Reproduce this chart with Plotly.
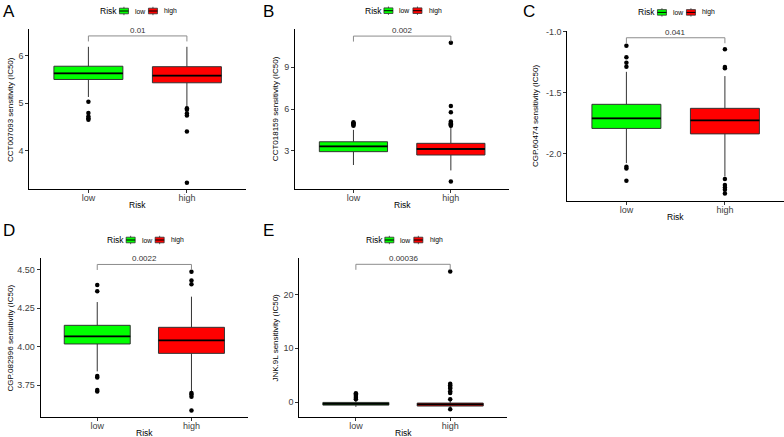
import plotly.graph_objects as go

W, H = 784, 437
FONT = "Liberation Sans, Arial, sans-serif"

# ---------------- data ----------------
groups = ["low", "high"]
group_colors = ["#00FF00", "#FF0000"]
panel_letters = ["A", "B", "C", "D", "E"]
drugs = ["CCT007093", "CCT018159", "CGP.60474", "CGP.082996", "JNK.9L"]
p_values = ["0.01", "0.002", "0.041", "0.0022", "0.00036"]

low_q1 = [5.50, 2.93, -1.795, 4.018, -0.58]
low_median = [5.63, 3.31, -1.712, 4.067, -0.35]
low_q3 = [5.78, 3.64, -1.597, 4.139, -0.08]
low_lowerfence = [5.13, 1.97, -2.08, 3.84, -0.90]
low_upperfence = [6.19, 4.50, -1.33, 4.29, 0.25]

high_q1 = [5.43, 2.69, -1.84, 3.957, -0.75]
high_median = [5.58, 3.12, -1.729, 4.041, -0.45]
high_q3 = [5.77, 3.53, -1.63, 4.126, -0.20]
high_lowerfence = [4.92, 1.58, -2.19, 3.71, -1.10]
high_upperfence = [6.19, 4.70, -1.365, 4.325, 0.30]

low_outliers = [
    [5.03, 4.79, 4.72, 4.68, 4.65],
    [5.05, 4.98, 4.92, 4.86, 4.80],
    [-1.116, -1.211, -1.255, -1.288, -2.11, -2.125, -2.225],
    [4.40, 4.36, 3.81, 3.80, 3.72, 3.71],
    [1.65, 1.40, 1.10, 0.80, 0.50],
]
high_outliers = [
    [4.89, 4.86, 4.78, 4.74, 4.40, 3.32],
    [10.77, 6.21, 5.76, 5.10, 5.00, 4.95, 4.90, 4.85, 4.80, 0.78],
    [-1.145, -1.29, -1.30, -2.21, -2.26, -2.28, -2.30, -2.33],
    [4.487, 4.43, 4.405, 3.70, 3.69, 3.675, 3.586],
    [24.3, 3.4, 3.1, 2.8, 2.5, 2.0, 1.7, 0.5, -1.36],
]
bracket_y = [6.42, 11.25, -1.05, 4.534, 25.66]

y_ranges = [[3.18, 6.56], [0.22, 11.76], [-2.394, -0.992], [3.542, 4.574], [-2.74, 26.78]]
y_tickvals = [[4, 5, 6], [3, 6, 9], [-2.0, -1.5, -1.0], [3.75, 4.0, 4.25, 4.5], [0, 10, 20]]
y_ticktext = [["4", "5", "6"], ["3", "6", "9"], ["-2.0", "-1.5", "-1.0"],
              ["3.75", "4.00", "4.25", "4.50"], ["0", "10", "20"]]

# ---------------- layout geometry (pixels) ----------------
frames = [(29.3, 246.0, 29.3, 189.3), (295.0, 509.3, 29.0, 189.3), (567.3, 784.0, 30.7, 201.3),
          (40.7, 248.0, 258.3, 417.3), (299.3, 506.8, 258.3, 416.7)]
letter_pos = [(1, 0), (261, 0), (521, 0), (1, 219), (261, 219)]
ytitle_x = [10.7, 275.0, 535.0, 10.7, 275.0]
BOX_W = 0.7


def fx(p):
    return p / W


def fy(p):
    return 1 - p / H


fig = go.Figure()
annotations = []
shapes = []
layout_axes = {}

for k in range(5):
    x0, x1, y0, y1 = frames[k]
    n = "" if k == 0 else str(k + 1)
    xa, ya = "x" + n, "y" + n
    stats = [
        (low_q1[k], low_median[k], low_q3[k], low_lowerfence[k], low_upperfence[k], low_outliers[k]),
        (high_q1[k], high_median[k], high_q3[k], high_lowerfence[k], high_upperfence[k], high_outliers[k]),
    ]
    for i, (q1, med, q3, lf, uf, outs) in enumerate(stats):
        fig.add_trace(go.Box(
            x=[i], q1=[q1], median=[med], q3=[q3], lowerfence=[lf], upperfence=[uf],
            width=BOX_W, fillcolor=group_colors[i], line=dict(color="#333333", width=1),
            whiskerwidth=0, boxpoints=False, showlegend=False, hoverinfo="skip",
            xaxis=xa, yaxis=ya))
        fig.add_trace(go.Scatter(
            x=[i - BOX_W / 2, i + BOX_W / 2], y=[med, med], mode="lines",
            line=dict(color="black", width=1.8), showlegend=False, hoverinfo="skip",
            xaxis=xa, yaxis=ya))
        fig.add_trace(go.Scatter(
            x=[i] * len(outs), y=outs, mode="markers",
            marker=dict(color="black", size=4.5), showlegend=False, hoverinfo="skip",
            xaxis=xa, yaxis=ya))
    # significance bracket
    span = y_ranges[k][1] - y_ranges[k][0]
    tip = 5.5 * span / (y1 - y0)
    b = bracket_y[k]
    fig.add_trace(go.Scatter(
        x=[0, 0, 1, 1], y=[b - tip, b, b, b - tip], mode="lines",
        line=dict(color="#8c8c8c", width=1), showlegend=False, hoverinfo="skip",
        xaxis=xa, yaxis=ya))
    annotations.append(dict(x=0.5, y=b, xref=xa, yref=ya, text=p_values[k], showarrow=False,
                            yanchor="bottom", yshift=-1, font=dict(family=FONT, size=8, color="#333333")))

    axis_common = dict(showline=True, linecolor="black", linewidth=1, ticks="outside", ticklen=3,
                       tickcolor="#333333", tickwidth=1, showgrid=False, zeroline=False,
                       tickfont=dict(family=FONT, size=9, color="#404040"), fixedrange=True)
    layout_axes["xaxis" + n] = dict(axis_common, domain=[fx(x0), fx(x1)], range=[-0.6, 1.6],
                                    tickvals=[0, 1], ticktext=groups, anchor=ya,
                                    ticklabelstandoff=-3)
    layout_axes["yaxis" + n] = dict(axis_common, domain=[fy(y1), fy(y0)], range=y_ranges[k],
                                    tickvals=y_tickvals[k], ticktext=y_ticktext[k], anchor=xa)

    # axis titles
    cx = (x0 + x1) / 2
    annotations.append(dict(x=fx(cx), y=fy(y1 + 16), xref="paper", yref="paper", text="Risk",
                            showarrow=False, xanchor="center", yanchor="middle",
                            font=dict(family=FONT, size=8.5, color="#000000")))
    annotations.append(dict(x=fx(ytitle_x[k]), y=fy((y0 + y1) / 2), xref="paper", yref="paper",
                            text=drugs[k] + " sensitivity (IC50)", textangle=-90, showarrow=False,
                            xanchor="center", yanchor="middle",
                            font=dict(family=FONT, size=8, color="#000000")))
    # panel letter
    lx, ly = letter_pos[k]
    annotations.append(dict(x=fx(lx), y=fy(ly), xref="paper", yref="paper", text=panel_letters[k],
                            showarrow=False, xanchor="left", yanchor="top",
                            font=dict(family=FONT, size=17, color="#000000")))

    # legend (drawn per panel)
    ly_c = y0 - 18.3
    lcx = cx - 0.8
    annotations.append(dict(x=fx(lcx - 38.4), y=fy(ly_c), xref="paper", yref="paper", text="Risk",
                            showarrow=False, xanchor="left", yanchor="middle",
                            font=dict(family=FONT, size=8.5, color="#000000")))
    for i, (kx0, tx) in enumerate([(-17.4, -4.0), (11.6, 25.6)]):
        kx1 = kx0 + 9.0
        shapes.append(dict(type="line", xref="paper", yref="paper",
                           x0=fx(kx0 + 4.5 + lcx), x1=fx(kx0 + 4.5 + lcx),
                           y0=fy(ly_c - 4.2), y1=fy(ly_c + 4.2), line=dict(color="#333333", width=0.8)))
        shapes.append(dict(type="rect", xref="paper", yref="paper",
                           x0=fx(kx0 + lcx), x1=fx(kx1 + lcx), y0=fy(ly_c - 2.8), y1=fy(ly_c + 2.8),
                           fillcolor=group_colors[i], line=dict(color="#333333", width=0.8)))
        shapes.append(dict(type="line", xref="paper", yref="paper",
                           x0=fx(kx0 + lcx), x1=fx(kx1 + lcx), y0=fy(ly_c), y1=fy(ly_c),
                           line=dict(color="black", width=1)))
        annotations.append(dict(x=fx(lcx + tx), y=fy(ly_c), xref="paper", yref="paper", text=groups[i],
                                showarrow=False, xanchor="left", yanchor="middle",
                                font=dict(family=FONT, size=6.8, color="#000000")))

fig.update_layout(
    template="none",
    width=W, height=H, margin=dict(l=0, r=0, t=0, b=0, pad=0),
    font=dict(family=FONT, color="#000000"),
    paper_bgcolor="white", plot_bgcolor="white", showlegend=False,
    annotations=annotations, shapes=shapes, boxmode="overlay",
    **layout_axes)

fig.write_html("out.html", config={"displayModeBar": False},
               post_script="document.body.style.margin='0';document.body.style.overflow='hidden';")
